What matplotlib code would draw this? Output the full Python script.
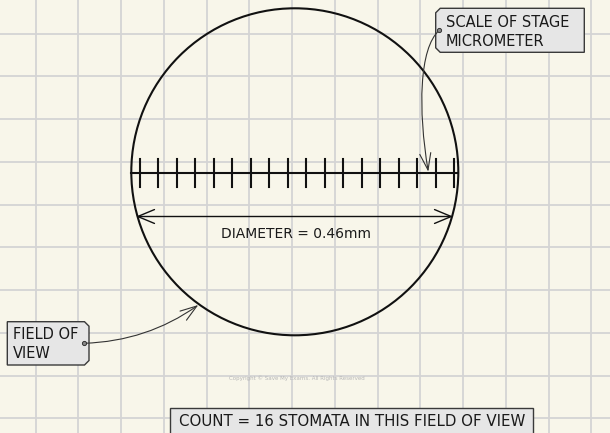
import matplotlib
matplotlib.use("Agg")
import matplotlib.pyplot as plt
import numpy as np
from matplotlib.patches import Circle, Polygon, FancyArrowPatch
from matplotlib.path import Path

# ---- content ----
tick_count = 18
diameter_label = "DIAMETER = 0.46mm"
scale_label = ["SCALE OF STAGE", "MICROMETER"]
fov_label = ["FIELD OF", "VIEW"]
count_label = "COUNT = 16 STOMATA IN THIS FIELD OF VIEW"
copyright_label = "Copyright © Save My Exams. All Rights Reserved"

W, H = 610, 433
fig = plt.figure(figsize=(W / 100, H / 100), dpi=100)
fig.patch.set_facecolor("#f8f6ea")
ax = fig.add_axes([0, 0, 1, 1])
ax.set_xlim(0, W)
ax.set_ylim(H, 0)
ax.axis("off")
ax.set_facecolor("#f8f6ea")

FONT = "DejaVu Sans"
TXT = "#1a1a1a"

# grid
gx0, gy0, gs = 35.7, 33.7, 42.75
for k in range(15):
    x = gx0 + k * gs
    if x < W:
        ax.plot([x, x], [0, H], color="#d4d4d4", lw=1.3, zorder=1)
for k in range(11):
    y = gy0 + k * gs
    if y < H:
        ax.plot([0, W], [y, y], color="#d4d4d4", lw=1.3, zorder=1)

# circle (field of view)
cx, cy, r = 294.8, 171.8, 163.5
ax.add_patch(Circle((cx, cy), r, fill=False, ec="#111111", lw=1.5, zorder=3))

# scale line + ticks
ax.plot([cx - r, cx + r], [172.7, 172.7], color="#111111", lw=1.5, zorder=3)
tick_x = np.linspace(140, 454.3, tick_count)
for tx in tick_x:
    ax.plot([tx, tx], [158.5, 186.5], color="#111111", lw=1.5, zorder=3)

# diameter arrow
ax.add_patch(FancyArrowPatch((136, 216.5), (453, 216.5), arrowstyle="<->,head_length=12,head_width=5",
                             mutation_scale=1, shrinkA=0, shrinkB=0, color="#111111", lw=1.0, zorder=3))
ax.text(295.8, 237.5, diameter_label, ha="center", va="baseline", fontsize=10,
        family=FONT, color=TXT, zorder=4)


def tag_box(x0, y0, x1, y1, chamfer_side, c=4.5):
    if chamfer_side == "left":
        pts = [(x0 + c, y0), (x1, y0), (x1, y1), (x0 + c, y1), (x0, y1 - c), (x0, y0 + c)]
    elif chamfer_side == "right":
        pts = [(x0, y0), (x1 - c, y0), (x1, y0 + c), (x1, y1 - c), (x1 - c, y1), (x0, y1)]
    else:
        pts = [(x0, y0), (x1, y0), (x1, y1), (x0, y1)]
    ax.add_patch(Polygon(pts, closed=True, fc="#e6e6e6", ec="#3a3a3a", lw=1.0, zorder=5))


# scale label
tag_box(435.7, 8.3, 584.3, 52.3, "left")
ax.text(445.5, 26.7, scale_label[0], ha="left", va="baseline", fontsize=10.5, family=FONT, color=TXT, zorder=6)
ax.text(445.5, 45.7, scale_label[1], ha="left", va="baseline", fontsize=10.5, family=FONT, color=TXT, zorder=6)
scale_path = Path([(439.3, 30.3), (419, 48), (418, 110), (428.3, 171.7)],
                  [Path.MOVETO, Path.CURVE4, Path.CURVE4, Path.CURVE4])
ax.add_patch(FancyArrowPatch(path=scale_path, arrowstyle="->,head_length=12,head_width=4",
                             mutation_scale=1, color="#333333", lw=0.8, zorder=6))
ax.plot(439.3, 30.3, "o", ms=3, mfc="#888888", mec="#333333", mew=0.7, zorder=7)

# field of view label
tag_box(7.3, 321.7, 89, 365, "right")
ax.text(12.7, 339.3, fov_label[0], ha="left", va="baseline", fontsize=10.5, family=FONT, color=TXT, zorder=6)
ax.text(12.7, 358.3, fov_label[1], ha="left", va="baseline", fontsize=10.5, family=FONT, color=TXT, zorder=6)
ax.add_patch(FancyArrowPatch((84.3, 343.3), (198.3, 305), connectionstyle="arc3,rad=0.15",
                             arrowstyle="->,head_length=12,head_width=4", mutation_scale=1,
                             shrinkA=0, shrinkB=0, color="#333333", lw=0.8, zorder=6))
ax.plot(84.3, 343.3, "o", ms=3, mfc="#888888", mec="#333333", mew=0.7, zorder=7)

# copyright
ax.text(296.7, 378.5, copyright_label, ha="center", va="center", fontsize=4,
        family=FONT, color="#b8b8b8", zorder=2)

# count box
ax.add_patch(Polygon([(170, 407.7), (533.3, 407.7), (533.3, 440), (170, 440)], closed=True,
                     fc="#e6e6e6", ec="#3a3a3a", lw=1.0, zorder=5))
ax.text(351.7, 426, count_label, ha="center", va="baseline", fontsize=10.8,
        family=FONT, color=TXT, zorder=6)

fig.savefig("out.png", dpi=100, facecolor=fig.get_facecolor())
